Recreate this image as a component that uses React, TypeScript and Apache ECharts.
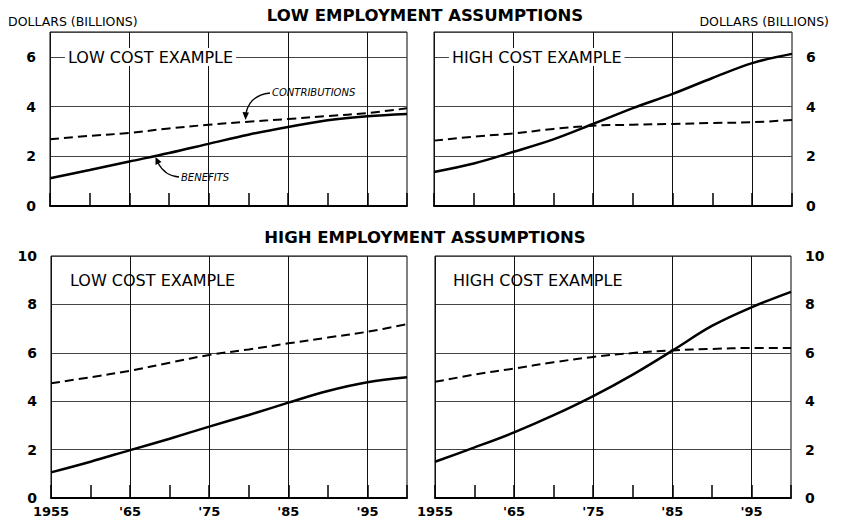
import React, { useEffect, useRef } from "react";
import * as echarts from "echarts";

const years = [1955, 1960, 1965, 1970, 1975, 1980, 1985, 1990, 1995, 2000];

// Low employment assumptions (billions of dollars)
const lowEmpLowCostBenefits = [1.12, 1.45, 1.79, 2.13, 2.5, 2.87, 3.18, 3.45, 3.61, 3.7];
const lowEmpLowCostContrib = [2.69, 2.82, 2.94, 3.12, 3.27, 3.39, 3.5, 3.62, 3.74, 3.93];
const lowEmpHighCostBenefits = [1.37, 1.71, 2.18, 2.68, 3.3, 3.94, 4.51, 5.15, 5.75, 6.12];
const lowEmpHighCostContrib = [2.63, 2.79, 2.92, 3.1, 3.23, 3.27, 3.3, 3.34, 3.37, 3.46];

// High employment assumptions
const highEmpLowCostBenefits = [1.06, 1.5, 1.98, 2.45, 2.95, 3.43, 3.94, 4.42, 4.78, 4.99];
const highEmpLowCostContrib = [4.74, 4.99, 5.26, 5.59, 5.91, 6.14, 6.39, 6.63, 6.87, 7.18];
const highEmpHighCostBenefits = [1.5, 2.09, 2.71, 3.42, 4.21, 5.1, 6.09, 7.11, 7.88, 8.52];
const highEmpHighCostContrib = [4.8, 5.1, 5.35, 5.61, 5.83, 5.99, 6.1, 6.16, 6.2, 6.2];

const topYMax = 7;
const bottomYMax = 10;
const yInterval = 2;

const FONT = "DejaVu Sans";

function pairs(vals: number[]) {
  return years.map((y, i) => [y, vals[i]]);
}

function xLabel(v: number) {
  if (v === 1955) return "1955";
  if ((v - 1955) % 10 === 0 && v < 2000) return "'" + String(v).slice(2);
  return "";
}

export default function App() {
  const ref = useRef<HTMLDivElement>(null);

  useEffect(() => {
    if (!ref.current) return;
    const chart = echarts.init(ref.current, undefined, { renderer: "svg" });

    const grids = [
      { left: 50, top: 32, width: 357, height: 174 },
      { left: 434, top: 32, width: 358, height: 174 },
      { left: 51, top: 256, width: 356, height: 242 },
      { left: 435, top: 256, width: 356, height: 242 },
    ].map((g) => ({
      ...g,
      show: true,
      borderColor: "#000",
      borderWidth: 1,
      backgroundColor: "transparent",
    }));

    const xAxes = [0, 1, 2, 3].map((i) => ({
      type: "value",
      gridIndex: i,
      min: 1955,
      max: 2000,
      interval: 5,
      axisLine: { show: true, lineStyle: { color: "#000", width: 2 } },
      axisTick: { show: true, inside: true, length: 13, lineStyle: { color: "#000", width: 1.5 } },
      axisLabel: {
        show: i >= 2,
        formatter: xLabel,
        color: "#000",
        fontFamily: FONT,
        fontSize: 13,
        fontWeight: "bold",
        margin: 7,
      },
      splitLine: { show: true, lineStyle: { color: ["#111", "rgba(0,0,0,0)"], width: 1 } },
    }));

    const yAxes = [0, 1, 2, 3].map((i) => {
      const max = i < 2 ? topYMax : bottomYMax;
      return {
        type: "value",
        gridIndex: i,
        min: 0,
        max,
        interval: yInterval,
        position: i % 2 === 0 ? "left" : "right",
        axisLine: { show: false },
        axisTick: { show: false },
        axisLabel: {
          formatter: (v: number) => (v === 7 ? "" : String(v)),
          color: "#000",
          fontFamily: FONT,
          fontSize: 14,
          fontWeight: "bold",
          margin: 14,
        },
        splitLine: { show: true, lineStyle: { color: "#444", width: 1 } },
      };
    });

    const panels = [
      [lowEmpLowCostBenefits, lowEmpLowCostContrib],
      [lowEmpHighCostBenefits, lowEmpHighCostContrib],
      [highEmpLowCostBenefits, highEmpLowCostContrib],
      [highEmpHighCostBenefits, highEmpHighCostContrib],
    ];

    const series: any[] = [];
    panels.forEach(([ben, con], i) => {
      series.push({
        type: "line",
        name: "Benefits",
        xAxisIndex: i,
        yAxisIndex: i,
        data: pairs(ben),
        smooth: 0.35,
        showSymbol: false,
        lineStyle: { color: "#000", width: 2.5 },
        z: 5,
      });
      series.push({
        type: "line",
        name: "Contributions",
        xAxisIndex: i,
        yAxisIndex: i,
        data: pairs(con),
        smooth: 0.35,
        showSymbol: false,
        lineStyle: { color: "#000", width: 2, type: [9, 5] },
        z: 5,
      });
    });

    const titleStyle = {
      fill: "#000",
      font: `bold 16.5px "${FONT}"`,
      align: "center",
      verticalAlign: "middle",
    };
    const smallStyle = {
      fill: "#000",
      font: `12.5px "${FONT}"`,
      verticalAlign: "middle",
    };
    const panelStyle = (x: number, y: number, text: string, bg: boolean) => ({
      type: "text",
      x,
      y,
      z: 10,
      style: {
        text,
        fill: "#000",
        font: `16px "${FONT}"`,
        verticalAlign: "middle",
        backgroundColor: bg ? "#fff" : undefined,
        padding: bg ? [1, 3] : 0,
      },
    });
    const noteStyle = (x: number, y: number, text: string) => ({
      type: "text",
      x,
      y,
      z: 10,
      style: {
        text,
        fill: "#000",
        font: `italic 10px "${FONT}"`,
        verticalAlign: "middle",
      },
    });

    const graphic: any[] = [
      { type: "text", x: 425, y: 15, style: { ...titleStyle, text: "LOW EMPLOYMENT ASSUMPTIONS" } },
      { type: "text", x: 425, y: 237, style: { ...titleStyle, text: "HIGH EMPLOYMENT ASSUMPTIONS" } },
      { type: "text", x: 8, y: 21, style: { ...smallStyle, text: "DOLLARS (BILLIONS)" } },
      { type: "text", x: 829, y: 21, style: { ...smallStyle, align: "right", text: "DOLLARS (BILLIONS)" } },
      panelStyle(65, 57, "LOW COST EXAMPLE", true),
      panelStyle(449, 57, "HIGH COST EXAMPLE", true),
      panelStyle(70, 280, "LOW COST EXAMPLE", false),
      panelStyle(453, 280, "HIGH COST EXAMPLE", false),
      noteStyle(272, 92, "CONTRIBUTIONS"),
      noteStyle(181, 177, "BENEFITS"),
      {
        type: "bezierCurve",
        z: 10,
        shape: { x1: 270, y1: 93, x2: 246, y2: 113, cpx1: 250, cpy1: 95 },
        style: { stroke: "#000", lineWidth: 1.3, fill: "none" },
      },
      {
        type: "polygon",
        z: 10,
        shape: { points: [[245.5, 120], [242.5, 112], [249, 112.5]] },
        style: { fill: "#000" },
      },
      {
        type: "bezierCurve",
        z: 10,
        shape: { x1: 179, y1: 177, x2: 158, y2: 163, cpx1: 165, cpy1: 176 },
        style: { stroke: "#000", lineWidth: 1.3, fill: "none" },
      },
      {
        type: "polygon",
        z: 10,
        shape: { points: [[155.5, 157], [161.5, 162], [155.5, 165]] },
        style: { fill: "#000" },
      },
    ];

    chart.setOption({
      animation: false,
      backgroundColor: "#fff",
      textStyle: { fontFamily: FONT },
      grid: grids,
      xAxis: xAxes,
      yAxis: yAxes,
      series,
      graphic,
    });

    return () => chart.dispose();
  }, []);

  return (
    <div
      ref={ref}
      style={{ position: "absolute", left: 0, top: 0, width: 842, height: 523, background: "#fff" }}
    />
  );
}
